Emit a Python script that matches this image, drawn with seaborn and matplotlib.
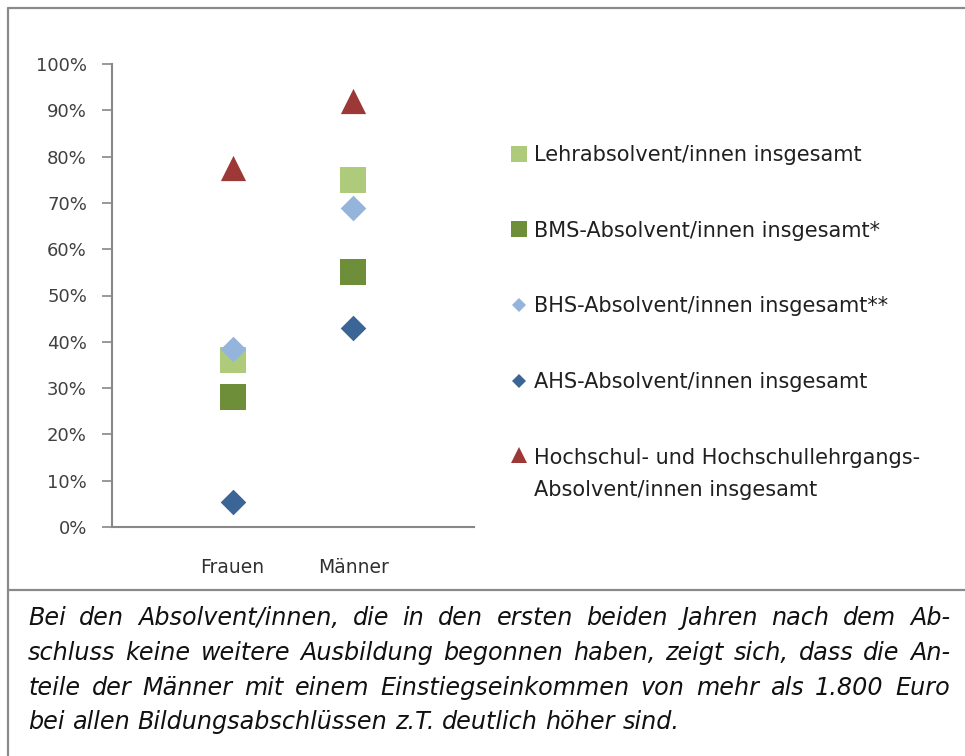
import matplotlib
matplotlib.use("Agg")
import numpy as np
import matplotlib.pyplot as plt
import seaborn as sns
import pandas as pd
from matplotlib.lines import Line2D
from matplotlib.legend_handler import HandlerLine2D
from matplotlib.ticker import PercentFormatter

# ---- data ----
categories = ["Frauen", "Männer"]
series = [
    "Lehrabsolvent/innen insgesamt",
    "BMS-Absolvent/innen insgesamt*",
    "BHS-Absolvent/innen insgesamt**",
    "AHS-Absolvent/innen insgesamt",
    "Hochschul- und Hochschullehrgangs-\nAbsolvent/innen insgesamt",
]
lehr = [36, 75]
bms = [28, 55]
bhs = [38.5, 69]
ahs = [5.5, 43]
hoch = [77.5, 92]
values = [lehr, bms, bhs, ahs, hoch]

markers = ["s", "s", "D", "D", "^"]
colors = ["#AECB7C", "#6E8E39", "#95B4DB", "#3A6596", "#9C3836"]
sizes = [340, 340, 170, 170, 330]
leg_sizes = [11, 11, 7.5, 7.5, 11]

caption_lines = [
    "Bei den Absolvent/innen, die in den ersten beiden Jahren nach dem Ab-",
    "schluss keine weitere Ausbildung begonnen haben, zeigt sich, dass die An-",
    "teile der Männer mit einem Einstiegseinkommen von mehr als 1.800 Euro",
    "bei allen Bildungsabschlüssen z.T. deutlich höher sind.",
]

rows = []
for s, vals in zip(series, values):
    for c, v in zip(categories, vals):
        rows.append({"Gruppe": c, "Serie": s, "Wert": v})
df = pd.DataFrame(rows)
df["xpos"] = df["Gruppe"].map({c: i for i, c in enumerate(categories)})

sns.set_theme(style="white")
plt.rcParams["font.family"] = ["DejaVu Sans"]

W, H = 965, 756
fig = plt.figure(figsize=(W / 100, H / 100), dpi=100)
ax = fig.add_axes([112 / W, 1 - 527 / H, (474 - 112) / W, (527 - 64) / H])

for s, m, col, sz in zip(series, markers, colors, sizes):
    sub = df[df["Serie"] == s]
    sns.scatterplot(data=sub, x="xpos", y="Wert", marker=m, color=col, s=sz,
                    linewidth=0, ax=ax, legend=False, zorder=3)

ax.set_xlim(-1, 2)
ax.set_ylim(0, 100)
ax.set_yticks(range(0, 101, 10))
ax.yaxis.set_major_formatter(PercentFormatter(decimals=0))
ax.set_xticks(range(len(categories)))
ax.set_xticklabels(categories)
ax.set_xlabel("")
ax.set_ylabel("")
for sp in ["top", "right"]:
    ax.spines[sp].set_visible(False)
for sp in ["left", "bottom"]:
    ax.spines[sp].set_color("#888888")
    ax.spines[sp].set_linewidth(1.5)
ax.tick_params(axis="y", direction="out", length=7, width=1.2, color="#888888",
               pad=11, labelsize=13, labelcolor="#404040", left=True)
ax.tick_params(axis="x", length=0, pad=22, labelsize=13.5, labelcolor="#303030")


class ShiftedHandler(HandlerLine2D):
    def __init__(self, shift, **kw):
        super().__init__(**kw)
        self.shift = shift

    def create_artists(self, legend, orig_handle, xdescent, ydescent, width, height,
                       fontsize, trans):
        arts = super().create_artists(legend, orig_handle, xdescent, ydescent, width,
                                      height, fontsize, trans)
        for a in arts:
            a.set_ydata(np.asarray(a.get_ydata()) + self.shift)
        return arts


LEG_FS = 15
handles = [Line2D([], [], linestyle="none", marker=m, color=c, markersize=ls, markeredgewidth=0)
           for m, c, ls in zip(markers, colors, leg_sizes)]
leg = ax.legend(handles, series, loc="upper left", bbox_to_anchor=(511 / W, 1 - 145 / H),
                bbox_transform=fig.transFigure, frameon=False, fontsize=LEG_FS,
                labelspacing=2.67, handlelength=0.78, handletextpad=0.33, borderaxespad=0,
                borderpad=0, handler_map={handles[4]: ShiftedHandler(shift=13.5)})
for t in leg.get_texts():
    t.set_color("#202020")
leg.get_texts()[4].set_linespacing(1.75)

# frame lines
fc = "#8a8a8a"
fig.add_artist(Line2D([8 / W, 8 / W], [0, 1 - 8 / H], transform=fig.transFigure, color=fc, lw=1.6))
fig.add_artist(Line2D([8 / W, 1], [1 - 8 / H, 1 - 8 / H], transform=fig.transFigure, color=fc, lw=1.6))
fig.add_artist(Line2D([8 / W, 1], [1 - 590 / H, 1 - 590 / H], transform=fig.transFigure, color=fc, lw=1.6))

# justified caption
renderer = fig.canvas.get_renderer()
x0, x1 = 28, 950
baselines = [625, 660, 695, 729]
cap_kw = dict(fontsize=17.2, style="italic", color="#111111", va="baseline", ha="left")


def text_width(s):
    t = fig.text(0, 0, s, **cap_kw)
    w = t.get_window_extent(renderer).width
    t.remove()
    return w


natural_gap = text_width("a a") - text_width("aa")
for i, (line, yb) in enumerate(zip(caption_lines, baselines)):
    words = line.split(" ")
    widths = [text_width(w) for w in words]
    if i < len(caption_lines) - 1 and len(words) > 1:
        gap = (x1 - x0 - sum(widths)) / (len(words) - 1)
    else:
        gap = natural_gap
    x = x0
    for w, wd in zip(words, widths):
        fig.text(x / W, 1 - yb / H, w, **cap_kw)
        x += wd + gap

fig.savefig("out.png", dpi=100)
